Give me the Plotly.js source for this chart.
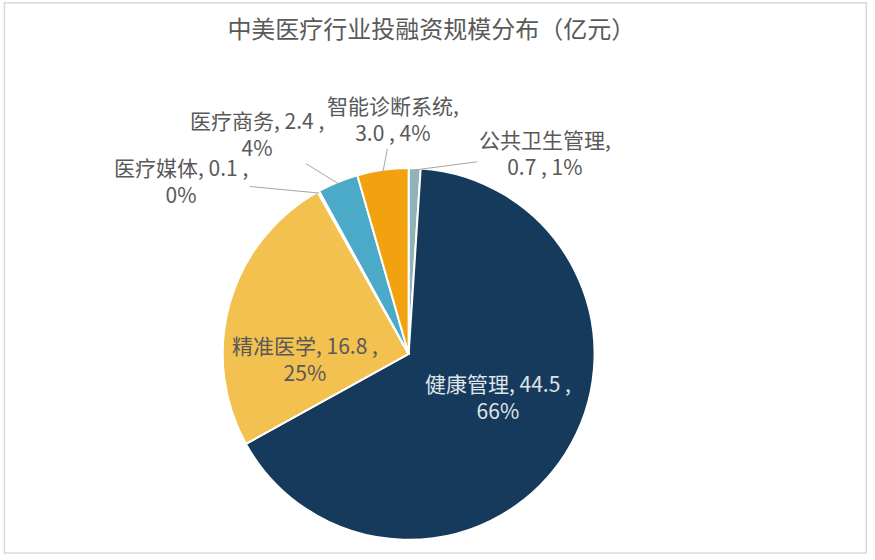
<!DOCTYPE html>
<html>
<head>
<meta charset="utf-8">
<script src="https://cdn.plot.ly/plotly-3.0.1.min.js"></script>
<style>
  html, body { margin: 0; padding: 0; background: #ffffff; }
  #plotDiv { width: 875px; height: 560px; }
</style>
</head>
<body>
<div id="plotDiv"></div>
<script>
'use strict';

// data, clockwise from 12 o'clock
const sectors = ['公共卫生管理', '健康管理', '精准医学', '医疗媒体', '医疗商务', '智能诊断系统'];
const amounts = [0.7, 44.5, 16.8, 0.1, 2.4, 3.0];
const sliceColors = ['#8fb3b7', '#163a5c', '#f2c14f', '#b9a3c9', '#4aaac8', '#f2a20f'];
// excel breaks the label line in two different places
const labelBreakAfterName = [true, false, false, false, false, true];
const labelInside = [false, true, true, false, false, false];
// where excel dragged the labels (pixels from the anchor point on the slice)
const labelOffsets = [[130, -17], [-5, -17], [4, 35], [-138, -13], [-81, -50], [10, -53]];

const W = 875, H = 560;
const domX = [0.254, 0.68], domY = [0.036, 0.70];
const labelGray = '#595959';
const cjk = '"Noto Sans CJK SC", sans-serif';
const fsize = 21;

function pct(v, tot){
    return Math.round(100 * v / tot) + '%';
}

var total = 0;
for (var i = 0; i < amounts.length; i++) total += amounts[i];

var notes = [];

// pie geometry, to hang the labels on the slices
var cx = (domX[0] + domX[1]) / 2 * W;
var cy = (1 - (domY[0] + domY[1]) / 2) * H;
var rad = Math.min((domX[1] - domX[0]) * W, (domY[1] - domY[0]) * H) / 2;
var cum = 0;

for (var i = 0; i < sectors.length; i++) {
    var v = amounts[i].toFixed(1);
    var s;
    if (labelBreakAfterName[i]) {
        s = sectors[i] + ',<br>' + v + ' , ' + pct(amounts[i], total);
    } else {
        s = sectors[i] + ', ' + v + ' ,<br>' + pct(amounts[i], total);
    }
    var ang = (cum + amounts[i] / 2) / total * 2 * Math.PI;
    cum += amounts[i];

    // inside labels sit around 0.6 r, outside ones hang from the rim
    var r = labelInside[i] ? 0.6 * rad : 0.99 * rad;
    var tx = cx + r * Math.sin(ang);
    var ty = cy - r * Math.cos(ang);
    notes.push({
        xref: 'paper', yref: 'paper',
        x: tx / W, y: 1 - ty / H,
        ax: labelOffsets[i][0], ay: labelOffsets[i][1],
        text: s, align: 'center',
        font: {family: cjk, size: fsize, color: i == 1 ? '#dfe3e8' : labelGray},
        showarrow: true, arrowhead: 0, arrowwidth: 1,
        arrowcolor: labelInside[i] ? 'rgba(0,0,0,0)' : '#a6a6a6',
        standoff: 0, startstandoff: 0
    });
}

var data = [{
    type: 'pie',
    labels: sectors,
    values: amounts,
    sort: false,
    direction: 'clockwise',
    rotation: 0,
    textinfo: 'none',
    marker: {colors: sliceColors, line: {color: '#ffffff', width: 2}},
    hoverinfo: 'label+value+percent',
    domain: {x: domX, y: domY},
    showlegend: false
}];

var layout = {
    width: W,
    height: H,
    margin: {l: 0, r: 0, t: 0, b: 0},
    paper_bgcolor: '#ffffff',
    font: {family: cjk, color: labelGray},
    title: {
        text: '中美医疗行业投融资规模分布（亿元）',
        font: {family: cjk, size: 24, color: labelGray},
        x: 0.493, xanchor: 'center',
        y: 0.948, yanchor: 'middle'
    },
    annotations: notes,
    shapes: [{
        type: 'rect', xref: 'paper', yref: 'paper',
        x0: 0.005, x1: 0.99, y0: 0.0125, y1: 0.995,
        line: {color: '#d9d9d9', width: 1.5}
    }]
};

Plotly.newPlot('plotDiv', data, layout, {displayModeBar: false});
</script>
</body>
</html>
